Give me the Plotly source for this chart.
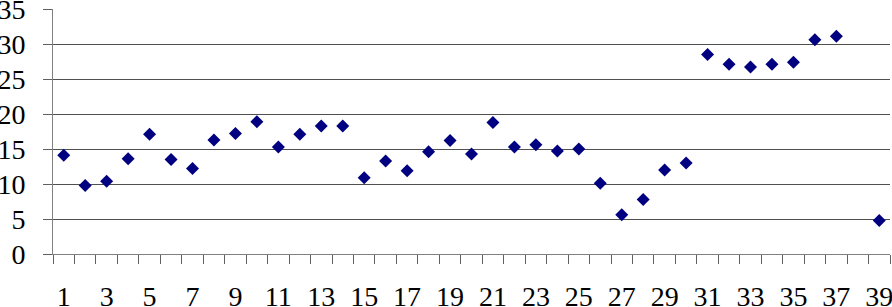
import plotly.graph_objects as go

categories = list(range(1, 40))
values = [14.1, 9.8, 10.4, 13.6, 17.1, 13.5, 12.2, 16.3, 17.2, 18.9,
          15.3, 17.1, 18.3, 18.3, 10.9, 13.3, 11.9, 14.6, 16.2, 14.3,
          18.8, 15.3, 15.6, 14.7, 15.0, 10.1, 5.6, 7.8, 12.0, 13.0,
          28.5, 27.1, 26.7, 27.1, 27.4, 30.6, 31.1, None, 4.8]
x_tick_vals = list(range(1, 40, 2))
x_tick_labels = [str(v) for v in x_tick_vals]
y_tick_vals = list(range(0, 36, 5))

fig = go.Figure()
fig.add_trace(go.Scatter(
    x=categories, y=values, mode="markers",
    marker=dict(symbol="diamond", size=10, color="#000080",
                line=dict(width=0)),
    showlegend=False, cliponaxis=False, hoverinfo="skip",
))

font = dict(family="Liberation Serif", size=28, color="#000000")

fig.update_layout(
    template="none",
    width=892, height=307,
    margin=dict(l=53, r=2, t=9, b=53, autoexpand=False),
    paper_bgcolor="white", plot_bgcolor="white",
    font=font,
    xaxis=dict(
        range=[0.5, 39.5], tickmode="array", tickvals=x_tick_vals,
        ticktext=x_tick_labels, ticks="", showgrid=False, zeroline=False,
        showline=True, linecolor="#808080", linewidth=1,
        ticklabelstandoff=17, automargin=False, ticklabeloverflow="allow",
        minor=dict(tick0=0.5, dtick=1, ticks="outside", ticklen=9,
                   tickcolor="#606060", tickwidth=1, showgrid=False),
        fixedrange=True,
    ),
    yaxis=dict(
        range=[0, 35], tickmode="array", tickvals=y_tick_vals,
        ticks="outside", ticklen=9, tickcolor="#606060",
        showgrid=True, gridcolor="#505050", gridwidth=1,
        zeroline=False, showline=True, linecolor="#808080", linewidth=1,
        ticklabelstandoff=12, automargin=False, ticklabeloverflow="allow",
        fixedrange=True,
    ),
)

fig.write_html("out.html", config={"displayModeBar": False, "staticPlot": True},
               post_script="document.body.style.margin='0px';")
